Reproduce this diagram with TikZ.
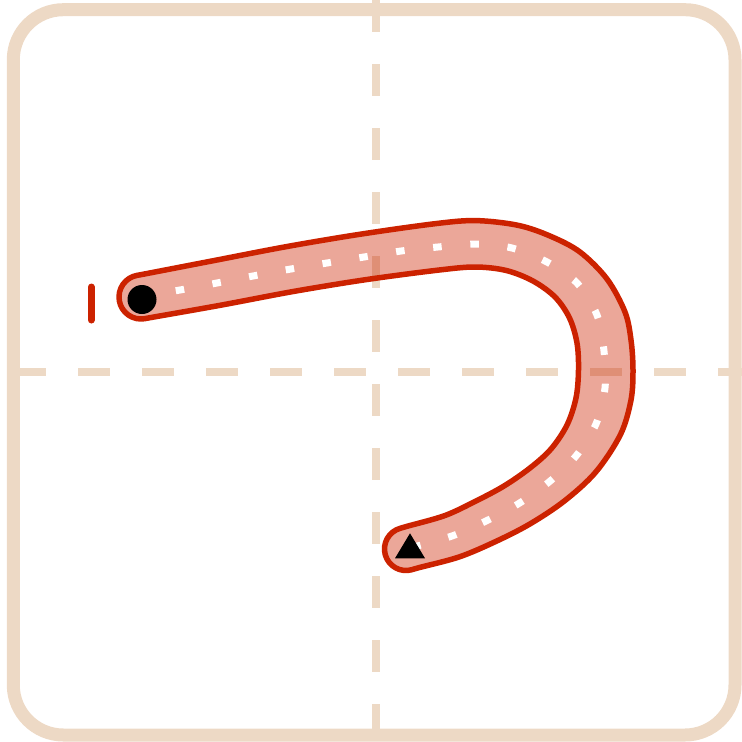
\documentclass[tikz,border=0pt]{standalone}
\definecolor{guide}{RGB}{237,217,197}
\definecolor{inkred}{RGB}{204,34,0}
\begin{document}
\begin{tikzpicture}[x=1pt,y=-1pt,
  guideline/.style={draw=guide, line width=8pt, dash pattern=on 32pt off 32pt},
  frame/.style={draw=guide, line width=13pt, rounded corners=50pt},
  brush/.style={draw=inkred, line width=5.5pt, fill=inkred, fill opacity=0.4, draw opacity=1, line join=round},
  centerdash/.style={draw=white, line width=7pt, dash pattern=on 8.5pt off 28.8pt, dash phase=1.95pt},
  tick/.style={draw=inkred, line width=7pt, line cap=round}]
\useasboundingbox (0,0) rectangle (742,742);
% guide lines
\draw[guideline] (376,0) -- (376,742);
\draw[guideline] (14,372) -- (742,372);
% frame
\draw[frame] (13.3,9.7) rectangle (735,735);
% brush stroke outline: start cap, outer side, end cap, inner side
\coordinate (capstart) at (144.9,318.65);
\filldraw[brush] (capstart) arc[start angle=79.8, end angle=259.8, radius=22]
 -- plot[smooth, tension=0.55] coordinates {
 (137.1,275.3) (145,273.9) (212.8,260.8) (287.1,246.5) (360.4,234.2)
 (435.9,223.6) (476.3,220.6) (518,225.3) (550,236) (580,252) (607,279) (625,312)
 (631,340) (633,370) (631,400) (620.5,434.5) (595.8,472) (564.6,500.8) (530.2,523.8)
 (495.9,541.4) (459.3,556.9) (419.5,567.5) (411.85,569.7)}
 arc[start angle=74.2, end angle=254.2, radius=21.5]
 -- plot[smooth, tension=0.55] coordinates {
 (400.15,528.3) (407.8,526.1) (445,515.5) (476,501) (504,486) (530,468) (551,449)
 (567,425) (576,398) (578.5,370) (577,343) (569.5,318) (555,297)
 (533,281) (506.3,270.5) (475.7,267) (440.1,269.9) (367.6,279.4) (294.9,291.2)
 (221.2,305.1) (152.8,317.2) (144.9,318.65)} -- cycle;
% centre line dashes
\draw[centerdash] plot[smooth, tension=0.5] coordinates {
 (141,297) (180,290) (217,283) (253,276) (291,269) (327,263) (364,257) (401,251)
 (438,247) (476,244) (512,248) (547,262) (577,283) (597,315) (604,351) (605,388)
 (596,424) (576,456) (549,482) (518,504) (486,521) (452,536) (406,549)};
% start tick
\coordinate (ticktop) at (91.3,287);
\coordinate (tickbot) at (91.3,320);
\draw[tick] (ticktop) -- (tickbot);
% start dot and end triangle
\coordinate (startpt) at (142,299.5);
\fill[black] (startpt) circle (14.5pt);
\coordinate (endA) at (395,558.3);
\coordinate (endB) at (425,558.3);
\coordinate (endC) at (410,533.3);
\fill[black] (endA) -- (endB) -- (endC) -- cycle;
\end{tikzpicture}
\end{document}
